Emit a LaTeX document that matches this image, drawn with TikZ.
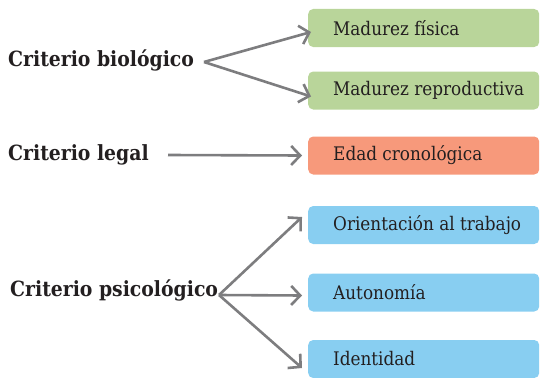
\documentclass[tikz,border=0pt]{standalone}
\usepackage{fontspec}
\setmainfont{DejaVu Serif Condensed}
\usetikzlibrary{arrows.meta}
\definecolor{verde}{HTML}{B9D59A}
\definecolor{salmon}{HTML}{F7997B}
\definecolor{celeste}{HTML}{88CEF1}
\definecolor{flecha}{HTML}{7D7D7F}
\definecolor{tinta}{HTML}{231F20}

\begin{document}
\begin{tikzpicture}[%
        x = 1bp, y = 1bp,
        caja/.style = {rectangle, rounded corners=5bp, anchor=west,
            minimum width=231bp, minimum height=38bp, inner xsep=25bp,
            text=tinta, font=\fontsize{18.8}{20}\selectfont},
        criterio/.style = {anchor=west, inner sep=0pt, text=tinta,
            font=\bfseries\fontsize{21}{23}\selectfont},
        flechas/.style = {draw=flecha, line width=2.6bp,
            -{Straight Barb[length=9bp,width=19bp,line width=2.6bp]}}
    ]
      \useasboundingbox (0,0) rectangle (540,377);
      % cajas
      \node[caja, fill=verde] (fisica) at (308,349) {\makebox[181bp][l]{Madurez física}};
      \node[caja, fill=verde] (repro) at (308,286.5) {\makebox[181bp][l]{Madurez reproductiva}};
      \node[caja, fill=salmon] (edad) at (308,221.5) {\makebox[181bp][l]{Edad cronológica}};
      \node[caja, fill=celeste] (trabajo) at (308,152) {\makebox[181bp][l]{Orientación al trabajo}};
      \node[caja, fill=celeste] (autonomia) at (308,84.5) {\makebox[181bp][l]{Autonomía}};
      \node[caja, fill=celeste] (identidad) at (308,18) {\makebox[181bp][l]{Identidad}};
      % criterios
      \node[criterio] (bio) at (8,317) {Criterio biológico};
      \node[criterio] (legal) at (8,222) {Criterio legal};
      \node[criterio] (psico) at (10,87) {Criterio psicológico};
      % flechas
      \coordinate (b0) at (204,315);
      \coordinate (l0) at (168,222);
      \coordinate (p0) at (219,82);
      \draw[flechas] (b0) -- ([xshift=3bp,yshift=-4bp]fisica.west);
      \draw[flechas] (b0) -- ([xshift=3bp,yshift=-6bp]repro.west);
      \draw[flechas] (l0) -- ([xshift=-6bp]edad.west);
      \draw[flechas] (p0) -- ([xshift=-6bp,yshift=8bp]trabajo.west);
      \draw[flechas] (p0) -- ([xshift=-6bp,yshift=-3bp]autonomia.west);
      \draw[flechas] (p0) -- ([xshift=-6bp,yshift=-9bp]identidad.west);
    \end{tikzpicture}
\end{document}
